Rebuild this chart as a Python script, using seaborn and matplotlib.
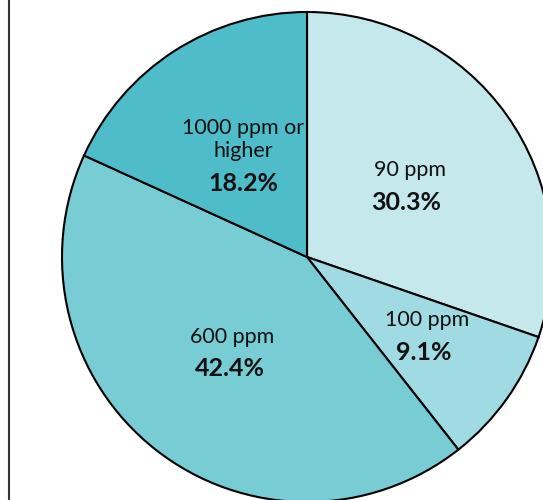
import matplotlib
matplotlib.use("Agg")
import matplotlib.pyplot as plt
import seaborn as sns
from matplotlib.lines import Line2D

# data
categories = ["90 ppm", "100 ppm", "600 ppm", "1000 ppm or\nhigher"]
shares = [30.3, 9.1, 42.4, 18.2]
colors = ["#c4e8ec", "#a0dae2", "#78cdd5", "#4fbdc9"]

sns.set_style("white")
plt.rcParams["font.family"] = ["Lato", "DejaVu Sans"]

fig = plt.figure(figsize=(5.43, 5.0), dpi=100)
# pie is larger than the canvas on the right/bottom, like the original crop
ax = fig.add_axes([62 / 543, -2 / 500, 490 / 543, 490 / 500])
wedges, _ = ax.pie(shares, colors=colors, startangle=90, counterclock=False,
                   radius=1.0,
                   wedgeprops={"edgecolor": "black", "linewidth": 1.5})
ax.set_xlim(-1, 1)
ax.set_ylim(-1, 1)
ax.set_aspect("equal")
ax.axis("off")

# label centres (name, bold percentage), in data units
name_pos = [(0.42, 0.355), (0.49, -0.257), (-0.306, -0.327), (-0.261, 0.48)]
pct_pos = [(0.404, 0.224), (0.478, -0.388), (-0.314, -0.457), (-0.261, 0.302)]
for name, val, (nx, ny), (px, py) in zip(categories, shares, name_pos, pct_pos):
    ax.text(nx, ny, name, ha="center", va="center", fontsize=15.5,
            color="#111111", linespacing=1.2)
    ax.text(px, py, f"{val:.1f}%", ha="center", va="center",
            fontsize=18, fontweight="bold", color="#111111")

# left border line
fig.add_artist(Line2D([9 / 543, 9 / 543], [0, 1], color="#333333",
                      linewidth=1.5, transform=fig.transFigure))

fig.savefig("out.png", dpi=100)
